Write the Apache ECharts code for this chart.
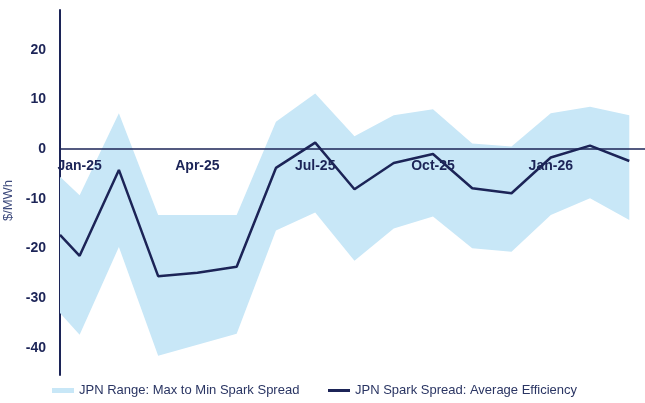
<!DOCTYPE html>
<html>
<head>
<meta charset="utf-8">
<script src="https://cdn.jsdelivr.net/npm/echarts@6/dist/echarts.min.js"></script>
<style>
  html, body { margin: 0; padding: 0; background: #fff; }
  #chart { width: 645px; height: 403px; }
</style>
</head>
<body>
<div id="chart"></div>
<script>
// month labels (index 0 = Jan-25); first point sits half a month before Jan-25
var months = ['Jan-25', 'Feb-25', 'Mar-25', 'Apr-25', 'May-25', 'Jun-25', 'Jul-25',
    'Aug-25', 'Sep-25', 'Oct-25', 'Nov-25', 'Dec-25', 'Jan-26', 'Feb-26', 'Mar-26'];
var xPos = [-0.5, 0, 1, 2, 3, 4, 5, 6, 7, 8, 9, 10, 11, 12, 13, 14];

var rangeMax = [-5.6, -9.3, 7.2, -13.3, -13.3, -13.3, 5.5, 11.2, 2.6, 6.8, 8.0, 1.1, 0.5, 7.2, 8.5, 6.8];
var rangeMin = [-33.0, -37.4, -19.7, -41.6, -39.4, -37.2, -16.4, -12.8, -22.5, -16.0, -13.6, -20.0, -20.7, -13.3, -9.9, -14.3];
var avgSpread = [-17.3, -21.5, -4.2, -25.6, -24.9, -23.7, -3.8, 1.3, -8.1, -2.8, -1.0, -7.9, -8.9, -1.7, 0.7, -2.4];

var navy = '#1c2457';
var bandColor = '#c8e7f7';
var font = "'Liberation Sans', Arial, sans-serif";

(function () {
    var chart = echarts.init(document.getElementById('chart'));

    var bandData = xPos.map(function (x, i) { return [x, rangeMax[i], rangeMin[i]]; });
    var lineData = xPos.map(function (x, i) { return [x, avgSpread[i]]; });

    // whole band drawn once as one polygon: max values forward, min values back
    function renderBand(params, api) {
        if (params.dataIndex !== 0) return null;
        var pts = [];
        for (var i = 0; i < bandData.length; i++) {
            pts.push(api.coord([bandData[i][0], bandData[i][1]]));
        }
        for (var j = bandData.length - 1; j >= 0; j--) {
            pts.push(api.coord([bandData[j][0], bandData[j][2]]));
        }
        return {
            type: 'polygon',
            shape: { points: pts },
            style: { fill: bandColor }
        };
    }

    var option = {
        backgroundColor: '#fff',
        animation: false,
        textStyle: { fontFamily: font },

        grid: {
            left: 60,
            right: 0,
            top: 10,
            bottom: 28,
            outerBoundsMode: 'none'
        },

        legend: [
            {
                left: 52,
                top: 384,
                padding: 0,
                icon: 'rect',
                itemWidth: 22,
                itemHeight: 5,
                data: ['JPN Range: Max to Min Spark Spread'],
                textStyle: { fontSize: 13, color: '#2a3563', fontFamily: font }
            },
            {
                left: 328,
                top: 384,
                padding: 0,
                icon: 'rect',
                itemWidth: 22,
                itemHeight: 3,
                data: ['JPN Spark Spread: Average Efficiency'],
                textStyle: { fontSize: 13, color: '#2a3563', fontFamily: font }
            }
        ],

        xAxis: {
            type: 'value',
            min: -0.5,
            max: 14.4,
            interval: 0.5,
            z: 1.5,
            // moved up so the axis sits on the zero line
            offset: -226,
            axisLine: { onZero: false, lineStyle: { color: navy, width: 1.5 } },
            axisTick: { show: false },
            splitLine: { show: false },
            axisLabel: {
                margin: 10,
                fontSize: 14,
                fontWeight: 'bold',
                color: navy,
                fontFamily: font,
                formatter: function (v) {
                    var i = Math.round(v);
                    if (Math.abs(v - i) < 1e-6 && i >= 0 && i % 3 === 0 && months[i]) {
                        return months[i];
                    }
                    return '';
                }
            }
        },

        yAxis: {
            type: 'value',
            min: -45.5,
            max: 28,
            splitNumber: 7,
            name: '$/MWh',
            nameLocation: 'middle',
            nameGap: 39,
            nameTextStyle: { fontSize: 13, color: '#3d4a7c', fontFamily: font, padding: [0, 0, 0, -16] },
            axisLine: { show: true, onZero: false, lineStyle: { color: navy, width: 2 } },
            axisTick: { show: false },
            splitLine: { show: false },
            axisLabel: {
                margin: 14,
                fontSize: 14,
                fontWeight: 'bold',
                color: navy,
                fontFamily: font,
                showMinLabel: false,
                showMaxLabel: false
            }
        },

        series: [
            {
                name: 'JPN Range: Max to Min Spark Spread',
                type: 'custom',
                silent: true,
                z: 1,
                itemStyle: { color: bandColor },
                encode: { x: 0, y: [1, 2] },
                renderItem: renderBand,
                data: bandData
            },
            {
                name: 'JPN Spark Spread: Average Efficiency',
                type: 'line',
                symbol: 'none',
                z: 3,
                itemStyle: { color: navy },
                lineStyle: { color: navy, width: 2.5 },
                data: lineData
            }
        ]
    };

    chart.setOption(option);
})();
</script>
</body>
</html>
